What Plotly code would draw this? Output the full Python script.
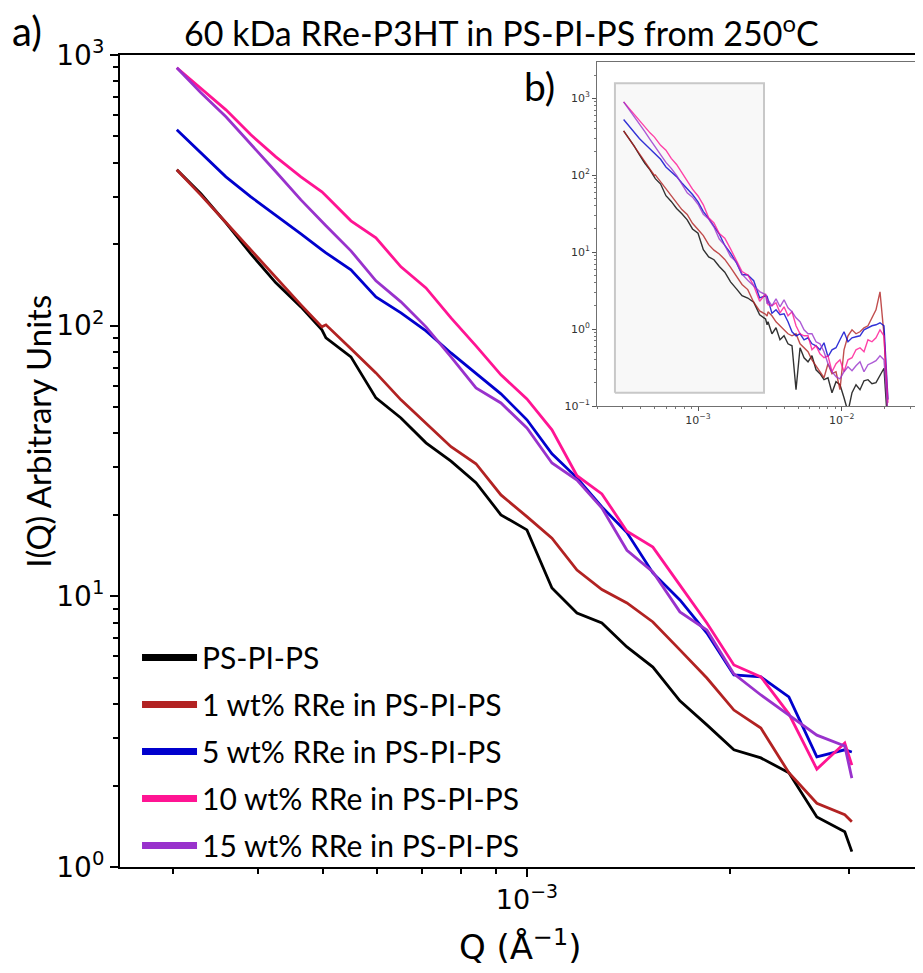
import plotly.graph_objects as go

# ---------------- data: main panel (a) ----------------
q = [3.034e-4, 3.294e-4, 3.587e-4, 3.905e-4, 4.252e-4, 4.631e-4, 4.974e-4, 5.043e-4,
     5.491e-4, 5.979e-4, 6.511e-4, 7.090e-4, 7.721e-4, 8.407e-4, 9.153e-4, 1.000e-3,
     1.089e-3, 1.186e-3, 1.291e-3, 1.406e-3, 1.536e-3, 1.684e-3, 1.846e-3, 2.024e-3,
     2.219e-3, 2.441e-3, 2.685e-3, 2.953e-3, 3.025e-3]

I_ps = [376.5, 307.0, 239.9, 184.2, 143.9, 117.3, 96.5, 90.1, 76.7, 54.1, 45.6, 36.9,
        31.6, 26.3, 20.0, 17.6, 10.74, 8.68, 7.97, 6.50, 5.48, 4.11, 3.35, 2.71, 2.53,
        2.23, 1.53, 1.35, 1.14]
I_1wt = [376.5, 303.6, 240.4, 190.3, 150.7, 119.4, 99.0, 100.7, 82.1, 66.9, 53.2, 43.7,
         35.7, 30.9, 23.7, 19.7, 16.4, 12.5, 10.6, 9.45, 8.04, 6.34, 4.99, 3.80, 3.26,
         2.23, 1.72, 1.56, 1.47]
I_5wt = [529.1, 435.1, 354.7, 299.2, 256.7, 218.4, 190.6, 185.8, 160.8, 127.8, 111.5,
         95.7, 79.3, 66.4, 56.0, 44.9, 33.6, 27.4, 21.4, 17.2, 12.2, 9.70, 7.32, 5.12,
         5.04, 4.25, 2.55, 2.71, 2.66]
I_10wt = [897, 750, 627, 507, 420.6, 354.7, 312.2, 301.8, 244.0, 211.1, 164.9, 137.9,
          106.9, 84.2, 65.8, 53.6, 41.2, 27.9, 23.9, 17.4, 15.2, 11.0, 7.97, 5.58, 5.04,
          3.68, 2.30, 2.87, 2.38]
I_15wt = [897, 725, 591, 465.8, 370.2, 291.6, 241.9, 233.8, 189.0, 146.4, 122.5, 99.0,
          76.7, 58.9, 51.8, 41.9, 31.1, 26.9, 21.2, 14.8, 12.3, 8.76, 7.51, 5.17, 4.32,
          3.65, 3.07, 2.80, 2.13]

# ---------------- data: high-Q continuation shown in inset (b) ----------------
q_hi = [3.07e-3, 3.27e-3, 3.49e-3, 3.72e-3, 3.97e-3, 4.23e-3, 4.51e-3, 4.81e-3, 5.13e-3,
        5.47e-3, 5.83e-3, 6.21e-3, 6.63e-3, 7.06e-3, 7.53e-3, 8.03e-3, 8.56e-3, 9.13e-3,
        9.73e-3, 1.038e-2, 1.106e-2, 1.180e-2, 1.258e-2, 1.341e-2, 1.430e-2, 1.524e-2,
        1.625e-2, 1.733e-2, 1.848e-2, 1.970e-2, 2.100e-2]
I_ps_hi = [1.244, 0.869, 1.040, 0.726, 0.818, 0.644, 0.607, 0.163, 0.572, 0.424, 0.376,
           0.450, 0.296, 0.263, 0.220, 0.233, 0.149, 0.207, 0.189, 0.128, 0.0843, 0.149,
           0.189, 0.163, 0.213, 0.220, 0.195, 0.201, 0.247, 0.31, 0.049]
I_1wt_hi = [1.678, 1.488, 1.244, 1.104, 0.979, 0.869, 0.818, 0.869, 0.644, 0.572, 0.507,
            0.399, 0.334, 0.279, 0.233, 0.354, 0.263, 0.279, 0.163, 0.538, 0.818, 0.979,
            0.869, 0.922, 1.040, 1.104, 1.402, 1.781, 3.05, 0.843, 0.066]
I_5wt_hi = [2.4, 1.6, 1.781, 1.534, 1.580, 1.244, 0.922, 0.818, 0.869, 0.726, 0.771,
            0.644, 0.607, 0.538, 0.664, 0.437, 0.538, 0.572, 0.726, 0.922, 0.684, 0.771,
            0.794, 0.818, 0.979, 1.040, 1.104, 1.137, 1.207, 1.104, 0.121]
I_10wt_hi = [2.068, 2.007, 2.196, 1.628, 1.948, 1.488, 1.678, 1.104, 0.869, 0.818, 0.818,
             0.538, 0.607, 0.478, 0.424, 0.450, 0.279, 0.354, 0.399, 0.279, 0.399, 0.424,
             0.538, 0.572, 0.507, 0.726, 0.684, 0.771, 0.979, 0.818, 0.110]
I_15wt_hi = [2.401, 2.007, 2.475, 1.948, 2.401, 1.891, 1.678, 1.402, 1.244, 0.979, 0.869,
             0.869, 0.684, 0.644, 0.507, 0.354, 0.279, 0.240, 0.226, 0.279, 0.324, 0.287,
             0.334, 0.376, 0.279, 0.344, 0.365, 0.388, 0.450, 0.399, 0.077]

# zoom region highlighted in the inset (Q range, I range)
zoom_q = [2.64e-4, 2.88e-3]
zoom_I = [0.149, 1566]

names = ["PS-PI-PS", "1 wt% RRe in PS-PI-PS", "5 wt% RRe in PS-PI-PS",
         "10 wt% RRe in PS-PI-PS", "15 wt% RRe in PS-PI-PS"]
colors = ["#000000", "#B22222", "#0000CD", "#FF1493", "#9932CC"]
main_series = [I_ps, I_1wt, I_5wt, I_10wt, I_15wt]
hi_series = [I_ps_hi, I_1wt_hi, I_5wt_hi, I_10wt_hi, I_15wt_hi]

# tick definitions
x_major = [1e-3]
x_major_text = ["10<sup>−3</sup>"]
x_minor = [3e-4, 4e-4, 5e-4, 6e-4, 7e-4, 8e-4, 9e-4, 2e-3, 3e-3]
y_major = [1, 10, 100, 1000]
y_major_text = ["10<sup>0</sup>", "10<sup>1</sup>", "10<sup>2</sup>", "10<sup>3</sup>"]
y_minor = [m * d for d in (1, 10, 100) for m in range(2, 10)]

xi_major = [1e-3, 1e-2]
xi_major_text = ["10<sup>−3</sup>", "10<sup>−2</sup>"]
xi_minor = [m * d for d in (1e-4, 1e-3, 1e-2) for m in range(2, 10)]
yi_major = [0.1, 1, 10, 100, 1000]
yi_major_text = ["10<sup>−1</sup>", "10<sup>0</sup>", "10<sup>1</sup>", "10<sup>2</sup>", "10<sup>3</sup>"]
yi_minor = [m * d for d in (0.1, 1, 10, 100, 1000) for m in range(2, 10)]

fig = go.Figure()

# main curves
for nm, col, ys in zip(names, colors, main_series):
    fig.add_trace(go.Scatter(x=q, y=ys, mode="lines", line=dict(color=col, width=2.8),
                             showlegend=False, xaxis="x", yaxis="y", name=nm))

# legend entries (thick swatches)
for nm, col in zip(names, colors):
    fig.add_trace(go.Scatter(x=[None], y=[None], mode="lines", line=dict(color=col, width=7),
                             name=nm, legendgroup=nm, showlegend=True, xaxis="x", yaxis="y"))

# inset: zoom box
fig.add_trace(go.Scatter(x=[zoom_q[0], zoom_q[1], zoom_q[1], zoom_q[0], zoom_q[0]],
                         y=[zoom_I[0], zoom_I[0], zoom_I[1], zoom_I[1], zoom_I[0]],
                         mode="lines", fill="toself", fillcolor="#F8F8F8",
                         line=dict(color="#C8C8C8", width=2), showlegend=False,
                         hoverinfo="skip", xaxis="x2", yaxis="y2"))

# inset curves
for nm, col, ys, yh in zip(names, colors, main_series, hi_series):
    fig.add_trace(go.Scatter(x=q + q_hi, y=ys + yh, mode="lines",
                             line=dict(color=col, width=1.4), opacity=0.8,
                             showlegend=False, xaxis="x2", yaxis="y2", name=nm))

x_tick_font = dict(family="DejaVu Sans", size=27, color="black")
y_tick_font = dict(family="DejaVu Sans", size=28, color="black")
inset_font = dict(family="DejaVu Sans", size=11, color="#333333")

fig.update_layout(
    width=915, height=965,
    margin=dict(l=112, r=0, t=47, b=106),
    paper_bgcolor="white", plot_bgcolor="white",
    xaxis=dict(type="log", range=[-3.602, -2.414], domain=[0, 1], anchor="y",
               showline=True, linecolor="black", linewidth=2, mirror=True,
               ticks="outside", ticklen=8, tickwidth=1.5, tickcolor="black",
               tickmode="array", tickvals=x_major, ticktext=x_major_text, tickfont=x_tick_font,
               minor=dict(tickmode="array", tickvals=x_minor, ticks="outside", ticklen=5,
                          tickwidth=1.5, tickcolor="black", showgrid=False),
               showgrid=False, zeroline=False),
    yaxis=dict(type="log", range=[0, 3], domain=[0, 1], anchor="x",
               showline=True, linecolor="black", linewidth=2,
               ticks="outside", ticklen=8, tickwidth=1.5, tickcolor="black",
               tickmode="array", tickvals=y_major, ticktext=y_major_text, tickfont=y_tick_font,
               minor=dict(tickmode="array", tickvals=y_minor, ticks="outside", ticklen=5,
                          tickwidth=1.5, tickcolor="black", showgrid=False),
               showgrid=False, zeroline=False),
    xaxis2=dict(type="log", range=[-3.705, -1.434], domain=[0.5937, 1], anchor="y2",
                showline=True, linecolor="#707070", linewidth=1.2, mirror=True,
                ticks="outside", ticklen=3.5, tickwidth=0.8, tickcolor="#555555",
                tickmode="array", tickvals=xi_major, ticktext=xi_major_text, tickfont=inset_font,
                minor=dict(tickmode="array", tickvals=xi_minor, ticks="outside", ticklen=2,
                           tickwidth=0.6, tickcolor="#777777", showgrid=False),
                showgrid=False, zeroline=False),
    yaxis2=dict(type="log", range=[-1, 3.475], domain=[0.5677, 0.9918], anchor="x2",
                showline=True, linecolor="#707070", linewidth=1.2,
                ticks="outside", ticklen=3.5, tickwidth=0.8, tickcolor="#555555",
                tickmode="array", tickvals=yi_major, ticktext=yi_major_text, tickfont=inset_font,
                minor=dict(tickmode="array", tickvals=yi_minor, ticks="outside", ticklen=2,
                           tickwidth=0.6, tickcolor="#777777", showgrid=False),
                showgrid=False, zeroline=False),
    showlegend=True,
    legend=dict(x=0.0212, y=0.290, xanchor="left", yanchor="top",
                font=dict(family="Lato", size=30, color="black"),
                bgcolor="rgba(0,0,0,0)", traceorder="grouped", tracegroupgap=5,
                itemwidth=55),
    annotations=[
        dict(text="60 kDa RRe-P3HT in PS-PI-PS from 250<sup>o</sup>C", xref="paper", yref="paper",
             x=0.475, y=1.029, xanchor="center", yanchor="middle", showarrow=False,
             font=dict(family="Lato", size=34, color="black")),
        dict(text="a)", xref="paper", yref="paper", x=-0.1158, y=1.030,
             xanchor="center", yanchor="middle", showarrow=False,
             font=dict(family="Lato", size=40, color="black")),
        dict(text="b)", xref="paper", yref="paper", x=0.5230, y=0.962,
             xanchor="center", yanchor="middle", showarrow=False,
             font=dict(family="Lato", size=39, color="black")),
        dict(text="I(Q) Arbitrary Units", xref="paper", yref="paper", x=-0.1021, y=0.536,
             xanchor="center", yanchor="middle", textangle=-90, showarrow=False,
             font=dict(family="Lato", size=33, color="black")),
        dict(text="Q (Å<sup>−1</sup>)", xref="paper", yref="paper", x=0.4981, y=-0.0961,
             xanchor="center", yanchor="middle", showarrow=False,
             font=dict(family="DejaVu Sans", size=34, color="black")),
    ],
)

fig.write_html("out.html")
